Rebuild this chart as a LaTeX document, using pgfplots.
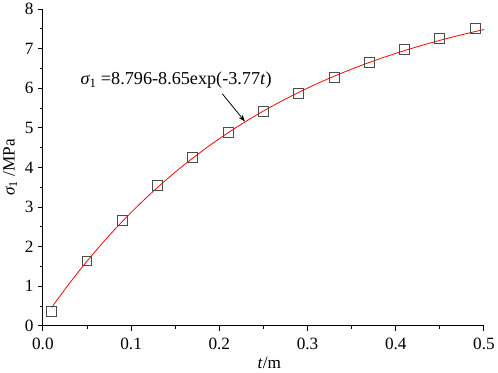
\documentclass[border=0pt]{standalone}
\usepackage{fontspec}
\setmainfont{Liberation Serif}
\usepackage{pgfplots}
\pgfplotsset{compat=1.18}
\usetikzlibrary{arrows.meta}

\begin{document}
\begin{tikzpicture}
  \begin{axis}[scale only axis, width=447bp, height=321bp,
    xmin=0, xmax=0.5, ymin=0, ymax=8,
    axis x line=bottom, axis y line=left,
    axis line style={-, line width=1.1pt},
    tick align=outside, tick style={black, line width=1pt},
    major tick length=5bp, minor tick length=3bp,
    xtick={0,0.1,...,0.5}, ytick={0,1,...,8},
    minor x tick num=1, minor y tick num=1,
    xticklabel style={yshift=-4bp, /pgf/number format/.cd, fixed, fixed zerofill, precision=1},
    yticklabel style={xshift=-1bp},
    /pgf/number format/assume math mode=true,
    ticklabel style={font=\fontsize{17.5}{20}\selectfont},
    label style={font=\fontsize{17.5}{20}\selectfont},
    xlabel={\textit{t}/m},
    ylabel={{\itshape σ}\textsubscript{1} /MPa},
    xlabel style={yshift=-1bp, xshift=6bp},
    ylabel style={yshift=1bp},
    clip=false]
    % fitted curve
    \addplot[red, line width=0.8pt, no marks, smooth] coordinates {
      (0.01,0.466) (0.03,1.071) (0.05,1.632) (0.07,2.153) (0.09,2.635)
      (0.11,3.082) (0.13,3.497) (0.15,3.882) (0.17,4.239) (0.19,4.570)
      (0.21,4.877) (0.23,5.161) (0.25,5.425) (0.27,5.670) (0.29,5.897)
      (0.31,6.108) (0.33,6.303) (0.35,6.484) (0.37,6.652) (0.39,6.808)
      (0.41,6.952) (0.43,7.086) (0.45,7.210) (0.47,7.325) (0.49,7.432)
      (0.50,7.483)};
    % measured points
    \addplot[only marks, mark=square, mark size=5bp,
             mark options={draw=black!70, line width=0.9pt}] coordinates {
      (0.01,0.37) (0.05,1.64) (0.09,2.67) (0.13,3.54) (0.17,4.26)
      (0.21,4.88) (0.25,5.41) (0.29,5.88) (0.33,6.28) (0.37,6.65)
      (0.41,6.97) (0.45,7.25) (0.49,7.51)};
    \draw[-{Stealth[length=7bp,width=5bp]}, line width=0.8pt]
      (axis cs:0.2034,5.86) -- (axis cs:0.229,5.16);
    \node[font=\fontsize{18.5}{21}\selectfont] at (axis cs:0.151,6.2)
      {{\itshape σ}\textsubscript{1} =8.796-8.65exp(-3.77\textit{t})};
  \end{axis}
\end{tikzpicture}
\end{document}
